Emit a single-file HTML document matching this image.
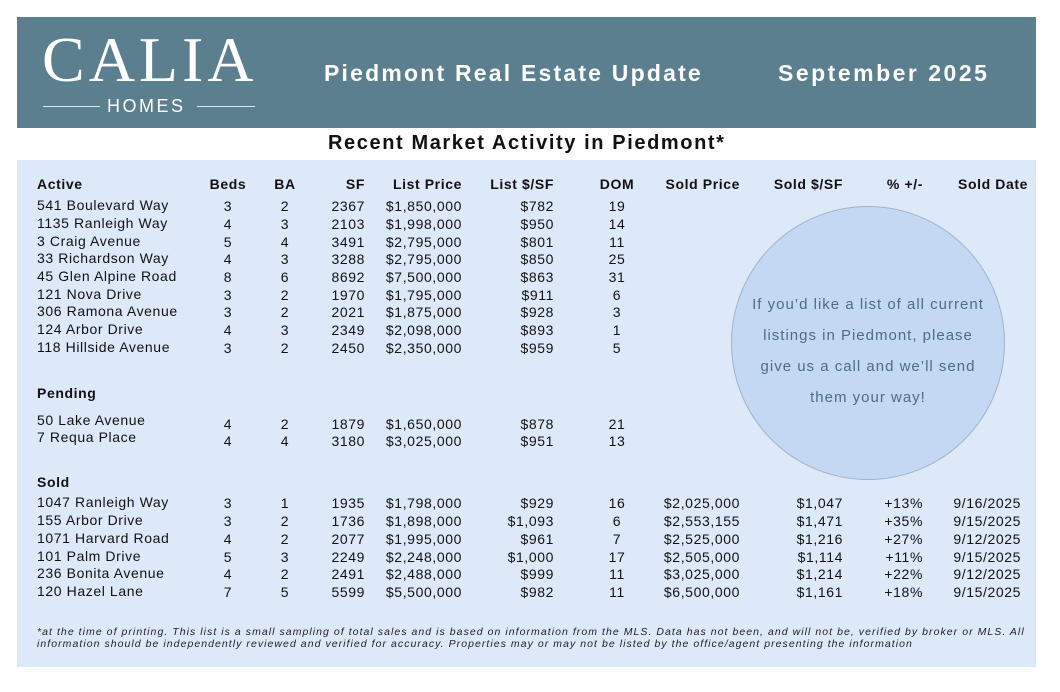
<!DOCTYPE html>
<html><head><meta charset="utf-8"><style>
body{margin:0;width:1060px;height:692px;background:#fff;position:relative;overflow:hidden;font-family:"Liberation Sans",sans-serif;color:#111}
.a{position:absolute;white-space:nowrap;font-size:14px;line-height:16px;letter-spacing:0.6px}
.b{font-weight:bold}
</style></head><body>
<div style="position:absolute;left:17px;top:17px;width:1019px;height:111px;background:#5b7f8e"></div>
<div class="a" style="left:42px;top:28px;font-family:'Liberation Serif',serif;font-size:64px;line-height:64px;color:#fff;letter-spacing:4px">CALIA</div>
<div style="position:absolute;left:43px;top:106px;width:57px;height:1px;background:#dfe8ec"></div>
<div style="position:absolute;left:197px;top:106px;width:58px;height:1px;background:#dfe8ec"></div>
<div class="a" style="left:107px;top:96px;font-size:18px;line-height:20px;color:#fff;letter-spacing:2.5px">HOMES</div>
<div class="a b" style="left:324px;top:60px;font-size:23px;line-height:26px;color:#fff;letter-spacing:2.2px">Piedmont Real Estate Update</div>
<div class="a b" style="left:778px;top:60px;font-size:23px;line-height:26px;color:#fff;letter-spacing:2.5px">September 2025</div>
<div class="a b" style="left:328px;top:132px;font-size:20px;line-height:22px;letter-spacing:1.6px">Recent Market Activity in Piedmont*</div>
<div style="position:absolute;left:17px;top:160px;width:1019px;height:507px;background:#dde9f8"></div>
<div style="position:absolute;left:731px;top:206px;width:272px;height:272px;border-radius:50%;background:#c5d8f3;border:1px solid #9fb4c8"></div>
<div style="position:absolute;left:731px;top:289px;width:274px;text-align:center;font-size:15px;line-height:31px;color:#4a6f80;letter-spacing:1px">If you’d like a list of all current<br>listings in Piedmont, please<br>give us a call and we’ll send<br>them your way!</div>
<div id="t"></div>
<div class="a" style="left:37px;top:626px;font-size:10.5px;line-height:12px;font-style:italic;color:#222;letter-spacing:1.05px">*at the time of printing. This list is a small sampling of total sales and is based on information from the MLS. Data has not been, and will not be, verified by broker or MLS. All<br>information should be independently reviewed and verified for accuracy. Properties may or may not be listed by the office/agent presenting the information</div>
<script>
const headers=["Active","Beds","BA","SF","List Price","List $/SF","DOM","Sold Price","Sold $/SF","% +/-","Sold Date"];
const active=[
["541 Boulevard Way","3","2","2367","$1,850,000","$782","19"],
["1135 Ranleigh Way","4","3","2103","$1,998,000","$950","14"],
["3 Craig Avenue","5","4","3491","$2,795,000","$801","11"],
["33 Richardson Way","4","3","3288","$2,795,000","$850","25"],
["45 Glen Alpine Road","8","6","8692","$7,500,000","$863","31"],
["121 Nova Drive","3","2","1970","$1,795,000","$911","6"],
["306 Ramona Avenue","3","2","2021","$1,875,000","$928","3"],
["124 Arbor Drive","4","3","2349","$2,098,000","$893","1"],
["118 Hillside Avenue","3","2","2450","$2,350,000","$959","5"]];
const pending=[
["50 Lake Avenue","4","2","1879","$1,650,000","$878","21"],
["7 Requa Place","4","4","3180","$3,025,000","$951","13"]];
const sold=[
["1047 Ranleigh Way","3","1","1935","$1,798,000","$929","16","$2,025,000","$1,047","+13%","9/16/2025"],
["155 Arbor Drive","3","2","1736","$1,898,000","$1,093","6","$2,553,155","$1,471","+35%","9/15/2025"],
["1071 Harvard Road","4","2","2077","$1,995,000","$961","7","$2,525,000","$1,216","+27%","9/12/2025"],
["101 Palm Drive","5","3","2249","$2,248,000","$1,000","17","$2,505,000","$1,114","+11%","9/15/2025"],
["236 Bonita Avenue","4","2","2491","$2,488,000","$999","11","$3,025,000","$1,214","+22%","9/12/2025"],
["120 Hazel Lane","7","5","5599","$5,500,000","$982","11","$6,500,000","$1,161","+18%","9/15/2025"]];
const cols=[[37,'l'],[228,'c'],[285,'c'],[365,'r'],[462,'r'],[554,'r'],[617,'c'],[740,'r'],[843,'r'],[923,'r'],[1021,'r']];
const root=document.getElementById('t');
function put(txt,ci,y,bold,name,xo){
  const d=document.createElement('div');
  d.className='a'+(bold?' b':'');
  const [x0,al]=cols[ci];
  const x=x0+(xo||0);
  if(al==='l'){d.style.left=x+'px';}
  else if(al==='r'){d.style.right=(1060-x)+'px';}
  else{d.style.left=(x-40)+'px';d.style.width='80px';d.style.textAlign='center';}
  d.style.top=(y-8)+'px';
  d.textContent=txt;
  
  
  root.appendChild(d);
}
headers.forEach((h,i)=>put(h,i,184,true,'col-header',i===10?7:0));
const activeY=[205,223,241,258,276,294,311,329,347];
active.forEach((r,ri)=>r.forEach((v,ci)=>put(v,ci,activeY[ri]+(ci?1:0),false,'active-cell')));
put("Pending",0,393,true,'pending-header');
const pendY=[420,437];
pending.forEach((r,ri)=>r.forEach((v,ci)=>put(v,ci,pendY[ri]+(ci?4:0),false,'pending-cell')));
put("Sold",0,482,true,'sold-header');
const soldY=[502,520,538,556,573,591];
sold.forEach((r,ri)=>r.forEach((v,ci)=>put(v,ci,soldY[ri]+(ci?1:0),false,'sold-cell')));
</script>
</body></html>
